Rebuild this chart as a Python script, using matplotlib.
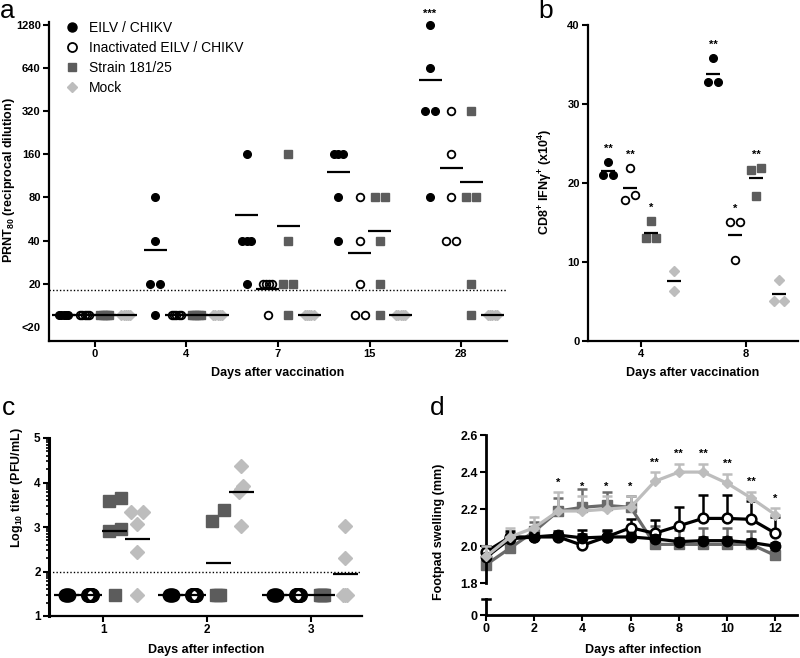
import matplotlib
matplotlib.use('Agg')
import matplotlib.pyplot as plt
import numpy as np
from matplotlib.lines import Line2D

plt.rcParams['font.family'] = ['Liberation Sans', 'DejaVu Sans']
plt.rcParams['mathtext.fontset'] = 'custom'
plt.rcParams['mathtext.bf'] = 'Liberation Sans:bold'
plt.rcParams['mathtext.rm'] = 'Liberation Sans:bold'
plt.rcParams['mathtext.default'] = 'bf'

# ---------------- Data ----------------
group_names = ['EILV / CHIKV', 'Inactivated EILV / CHIKV', 'Strain 181/25', 'Mock']

# panel a: PRNT80 titres, "<20" plotted at 12
a_days = ['0', '4', '7', '15', '28']
LT20 = 12
a_eilv = [[LT20, LT20, LT20, LT20, LT20], [80, 40, 20, 20, LT20], [160, 40, 40, 40, 20],
          [160, 160, 160, 80, 40], [1280, 640, 320, 320, 80]]
a_inact = [[LT20, LT20, LT20, LT20, LT20], [LT20, LT20, LT20, LT20, LT20], [20, 20, 20, 20, LT20],
           [80, 40, 20, LT20, LT20], [320, 160, 80, 40, 40]]
a_strain = [[LT20, LT20, LT20, LT20, LT20], [LT20, LT20, LT20, LT20, LT20], [160, 40, 20, 20, LT20],
            [80, 80, 40, 20, LT20], [320, 80, 80, 20, LT20]]
a_mock = [[LT20, LT20, LT20, LT20, LT20], [LT20, LT20, LT20, LT20, LT20], [LT20, LT20, LT20, LT20, LT20],
          [LT20, LT20, LT20, LT20, LT20], [LT20, LT20, LT20, LT20, LT20]]
a_yticks = [10, 20, 40, 80, 160, 320, 640, 1280]
a_yticklabels = ['<20', '20', '40', '80', '160', '320', '640', '1280']
a_limit = 18

# panel b: CD8+ IFNg+ cells (x10^4)
b_days = ['4', '8']
b_eilv = [[22.7, 21.0, 21.0], [35.8, 32.8, 32.8]]
b_inact = [[21.85, 17.9, 18.5], [15.0, 15.0, 10.2]]
b_strain = [[15.2, 13.0, 13.0], [21.9, 21.6, 18.35]]
b_mock = [[8.86, 6.3], [7.7, 5.06, 5.06]]
b_stars = [['**', '**', '*', ''], ['**', '*', '**', '']]

# panel c: log10 titre (PFU/mL)
c_days = ['1', '2', '3']
c_eilv = [[1.48, 1.48, 1.48, 1.48, 1.48], [1.48, 1.48, 1.48, 1.48, 1.48], [1.48, 1.48, 1.48, 1.48, 1.48]]
c_inact = [[1.48, 1.48, 1.48, 1.48, 1.48], [1.48, 1.48, 1.48, 1.48, 1.48], [1.48, 1.48, 1.48, 1.48, 1.48]]
c_strain = [[3.66, 3.58, 2.95, 2.91, 1.48], [3.38, 3.14, 1.48, 1.48, 1.48], [1.48, 1.48, 1.48, 1.48, 1.48]]
c_mock = [[3.34, 3.34, 3.07, 2.44, 1.48], [4.37, 3.92, 3.85, 3.79, 3.02], [3.02, 2.30, 1.48, 1.48, 1.48]]
c_limit = 2.0

# panel d: footpad swelling (mm), mean and upper SEM
d_days = [0, 1, 2, 3, 4, 5, 6, 7, 8, 9, 10, 11, 12]
d_eilv = [1.94, 2.04, 2.05, 2.06, 2.045, 2.05, 2.05, 2.04, 2.025, 2.03, 2.03, 2.02, 2.00]
d_eilv_err = [0.02, 0.02, 0.02, 0.02, 0.02, 0.03, 0.02, 0.02, 0.02, 0.02, 0.02, 0.02, 0.02]
d_inact = [1.97, 2.05, 2.05, 2.05, 2.005, 2.05, 2.10, 2.07, 2.11, 2.15, 2.15, 2.145, 2.07]
d_inact_err = [0.03, 0.03, 0.02, 0.02, 0.08, 0.04, 0.045, 0.07, 0.10, 0.125, 0.125, 0.10, 0.09]
d_strain = [1.90, 1.99, 2.08, 2.19, 2.21, 2.22, 2.21, 2.01, 2.01, 2.01, 2.01, 2.01, 1.95]
d_strain_err = [0.10, 0.08, 0.05, 0.07, 0.10, 0.07, 0.06, 0.10, 0.08, 0.09, 0.09, 0.07, 0.05]
d_mock = [1.945, 2.05, 2.10, 2.19, 2.19, 2.20, 2.21, 2.35, 2.40, 2.40, 2.34, 2.26, 2.17]
d_mock_err = [0.055, 0.05, 0.055, 0.10, 0.08, 0.07, 0.06, 0.05, 0.045, 0.045, 0.05, 0.035, 0.035]
d_stars = ['', '', '', '*', '*', '*', '*', '**', '**', '**', '**', '**', '*']

# ---------------- Styles ----------------
DARK = '#5c5c5c'
LIGHT = '#bdbdbd'
styles = [dict(marker='o', mfc='black', mec='black'),
          dict(marker='o', mfc='none', mec='black', mew=1.3),
          dict(marker='s', mfc=DARK, mec=DARK),
          dict(marker='D', mfc=LIGHT, mec=LIGHT)]


def style_axes(ax, fs):
    for s in ['top', 'right']:
        ax.spines[s].set_visible(False)
    for s in ['left', 'bottom']:
        ax.spines[s].set_linewidth(1.6)
    ax.tick_params(direction='out', length=4, width=1.5, pad=2, labelsize=fs)
    for lab in ax.get_xticklabels() + ax.get_yticklabels():
        lab.set_fontweight('bold')


def swarm_px(ypx, step, span, close):
    # spread points that sit on (almost) the same height
    order = np.argsort(ypx)
    offs = np.zeros(len(ypx))
    clusters, cur = [], [order[0]]
    for i in order[1:]:
        if ypx[i] - ypx[cur[-1]] < close:
            cur.append(i)
        else:
            clusters.append(cur)
            cur = [i]
    clusters.append(cur)
    for c in clusters:
        k = len(c)
        if k > 1:
            st = step if k == 2 else span / (k - 1)
            for j, i in enumerate(c):
                offs[i] = (j - (k - 1) / 2) * st
    return offs


def dot_panel(ax, groups, offsets, sizes, step, span, close, half, first=0, mew_open=1.3):
    x0 = ax.transData.transform([[0, 1]])[0, 0]
    x1 = ax.transData.transform([[1, 1]])[0, 0]
    ppx = x1 - x0
    tops = []
    for g, data in enumerate(groups):
        row = []
        for d, vals in enumerate(data):
            xc = d + first + offsets[g]
            vals = np.array(vals, dtype=float)
            ypx = ax.transData.transform(np.column_stack([np.full(len(vals), xc), vals]))[:, 1]
            xs = xc + swarm_px(ypx, step, span, close) / ppx
            st = dict(styles[g])
            if g == 1:
                st['mew'] = mew_open
            ax.plot(xs, vals, ls='none', ms=sizes[g], zorder=2, clip_on=False, **st)
            m = vals.mean()
            ax.plot([xc - half, xc + half], [m, m], color='black', lw=1.6, zorder=3,
                    solid_capstyle='butt')
            row.append((xc, vals.max()))
        tops.append(row)
    return tops


W, H = 800, 658
fig = plt.figure(figsize=(8, 6.58), dpi=100)


def rect(l, t, r, b):
    return [l / W, 1 - b / H, (r - l) / W, (b - t) / H]


# ---------------- Panel a ----------------
ax_a = fig.add_axes(rect(49, 22, 507, 341))
ax_a.set_yscale('log', base=2)
ax_a.set_ylim(7.96, 1343)
ax_a.set_xlim(-0.5, 4.5)
ax_a.set_yticks(a_yticks)
ax_a.set_yticklabels(a_yticklabels)
ax_a.minorticks_off()
ax_a.set_xticks(range(len(a_days)))
ax_a.set_xticklabels(a_days)
style_axes(ax_a, 8)
ax_a.yaxis.get_major_ticks()[0].tick1line.set_visible(False)
ax_a.axhline(a_limit, color='black', ls=(0, (1, 1.5)), lw=1.0, zorder=1)
tops_a = dot_panel(ax_a, [a_eilv, a_inact, a_strain, a_mock], [-0.34, -0.11, 0.11, 0.34],
                   [5.5, 5.5, 5.2, 4.6], 10, 9, 6, 0.125)
xc, top = tops_a[0][4]
ax_a.annotate('***', (xc, top), xytext=(0, 8), textcoords='offset points', ha='center',
              va='center', fontsize=8, fontweight='bold')
handles = [Line2D([], [], ls='none', ms=ms, **st) for st, ms in zip(styles, [6.5, 6.5, 6, 5])]
ax_a.legend(handles, group_names, loc='upper left', bbox_to_anchor=(65 / W, 1 - 21 / H),
            bbox_transform=fig.transFigure, frameon=False, fontsize=10, borderpad=0,
            handlelength=1.0, handletextpad=0.75, labelspacing=0.42, borderaxespad=0)
fig.text(278 / W, 1 - 373 / H, 'Days after vaccination', ha='center', va='center',
         fontsize=9, fontweight='bold')
fig.text(9 / W, 1 - 180 / H, 'PRNT$_{80}$ (reciprocal dilution)', ha='center', va='center',
         rotation=90, fontsize=9, fontweight='bold')

# ---------------- Panel b ----------------
ax_b = fig.add_axes(rect(588, 25, 798, 341))
ax_b.set_ylim(0, 40)
ax_b.set_xlim(-0.5, 1.5)
ax_b.set_yticks([0, 10, 20, 30, 40])
ax_b.set_xticks(range(len(b_days)))
ax_b.set_xticklabels(b_days)
style_axes(ax_b, 8)
tops_b = dot_panel(ax_b, [b_eilv, b_inact, b_strain, b_mock], [-0.31, -0.1, 0.1, 0.32],
                   [5.5, 5.5, 5.2, 5.0], 10, 9, 6, 0.065)
for g in range(4):
    for d in range(len(b_days)):
        if b_stars[d][g]:
            xc, top = tops_b[g][d]
            ax_b.annotate(b_stars[d][g], (xc, top), xytext=(0, 9.5), textcoords='offset points',
                          ha='center', va='center', fontsize=8, fontweight='bold')
fig.text(693 / W, 1 - 373 / H, 'Days after vaccination', ha='center', va='center',
         fontsize=9, fontweight='bold')
fig.text(545 / W, 1 - 182 / H, 'CD8$^{+}$ IFN\u03b3$^{+}$ (x10$^{4}$)', ha='center', va='center',
         rotation=90, fontsize=9, fontweight='bold')

# ---------------- Panel c ----------------
ax_c = fig.add_axes(rect(49, 438, 362, 616))
ax_c.set_ylim(1, 5)
ax_c.set_xlim(0.48, 3.49)
ax_c.set_yticks([1, 2, 3, 4, 5])
ax_c.set_yticks([n + np.log10(k) for n in range(1, 5) for k in range(2, 10)], minor=True)
ax_c.set_xticks(range(1, len(c_days) + 1))
ax_c.set_xticklabels(c_days)
style_axes(ax_c, 8.5)
ax_c.spines['left'].set_linewidth(2.2)
ax_c.tick_params(axis='y', which='minor', direction='out', length=2.5, width=1.2)
ax_c.axhline(c_limit, color='black', ls=(0, (1, 1.5)), lw=1.0, zorder=1)
dot_panel(ax_c, [c_eilv, c_inact, c_strain, c_mock], [-0.35, -0.13, 0.11, 0.33],
          [9, 9, 8.5, 7], 12, 4, 11.5, 0.12, first=1, mew_open=1.8)
fig.text(206 / W, 1 - 650 / H, 'Days after infection', ha='center', va='center',
         fontsize=9, fontweight='bold')
fig.text(17 / W, 1 - 488 / H, 'Log$_{10}$ titer (PFU/mL)', ha='center', va='center',
         rotation=90, fontsize=9, fontweight='bold')

# ---------------- Panel d ----------------
ax_d = fig.add_axes(rect(486, 435, 797, 583.3))
ax_d0 = fig.add_axes(rect(486, 599, 797, 615))
for ax in (ax_d, ax_d0):
    ax.set_xlim(0, 12.9)
ax_d.set_ylim(1.8, 2.6)
ax_d.set_yticks([1.8, 2.0, 2.2, 2.4, 2.6])
ax_d.set_yticklabels(['1.8', '2.0', '2.2', '2.4', '2.6'])
ax_d.set_xticks([])
style_axes(ax_d, 9)
ax_d.spines['bottom'].set_visible(False)
ax_d.spines['left'].set_linewidth(2)
ax_d0.set_ylim(0, 1)
ax_d0.set_yticks([0])
ax_d0.set_xticks(range(0, 13, 2))
style_axes(ax_d0, 9)
ax_d0.spines['left'].set_linewidth(2)
ax_d0.spines['bottom'].set_linewidth(2)
ax_d0.plot([-0.014, 0.014], [1, 1], transform=ax_d0.transAxes, color='black', lw=1.8,
           clip_on=False)

d_series = [(d_strain, d_strain_err, '#6a6a6a', dict(marker='s', mfc='#6a6a6a', mec='#6a6a6a', ms=6.5), 2),
            (d_inact, d_inact_err, 'black', dict(marker='o', mfc='white', mec='black', mew=1.8, ms=7), 4),
            (d_eilv, d_eilv_err, 'black', dict(marker='o', mfc='black', mec='black', ms=7.5), 5),
            (d_mock, d_mock_err, LIGHT, dict(marker='D', mfc=LIGHT, mec=LIGHT, ms=5.5), 6)]
for vals, err, col, mk, z in d_series:
    eb = ax_d.errorbar(d_days, vals, yerr=[np.zeros(len(err)), err], fmt='none', ecolor=col,
                       elinewidth=1.8, capsize=3.6, capthick=1.8, zorder=z)
    for art in list(eb.lines[1]) + list(eb.lines[2]):
        art.set_clip_on(False)
    ax_d.plot(d_days, vals, color=col, lw=2.3, zorder=z, clip_on=False, **mk)
for day, m, e, s in zip(d_days, d_mock, d_mock_err, d_stars):
    if s:
        ax_d.annotate(s, (day, m + e), xytext=(0, 7), textcoords='offset points', ha='center',
                      va='center', fontsize=8, fontweight='bold')
fig.text(643 / W, 1 - 650 / H, 'Days after infection', ha='center', va='center',
         fontsize=9, fontweight='bold')
fig.text(439 / W, 1 - 532 / H, 'Footpad swelling (mm)', ha='center', va='center',
         rotation=90, fontsize=9, fontweight='bold')

# panel letters
for lab, x, y in [('a', 0, 18), ('b', 538, 18), ('c', 2, 415), ('d', 430, 415)]:
    fig.text(x / W, 1 - y / H, lab, ha='left', va='baseline', fontsize=19)

fig.savefig('out.png', dpi=100)
